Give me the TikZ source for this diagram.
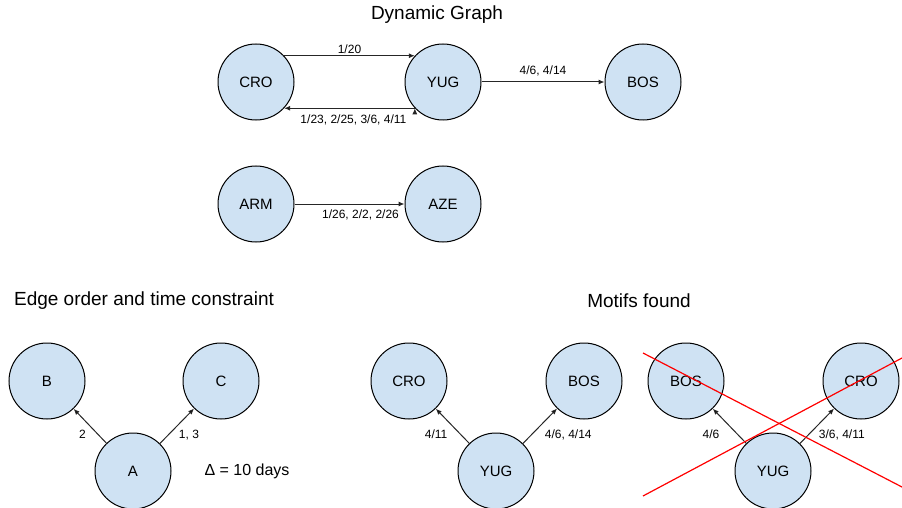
\documentclass[tikz,border=0pt]{standalone}
\usepackage{fontspec}
\setmainfont{Liberation Sans}
\usetikzlibrary{positioning,arrows.meta}
\definecolor{nodeblue}{HTML}{CFE2F3}
\tikzset{
country/.style={circle,draw=black,fill=nodeblue,line width=1pt,
  minimum size=76pt,inner sep=0pt,font=\fontsize{15}{18}\selectfont},
el/.style={font=\fontsize{12}{14}\selectfont,inner sep=2pt},
hd/.style={font=\fontsize{19}{23}\selectfont},
link/.style={-{Latex[length=6pt,width=5pt]},line width=1pt,draw=black!85},
cross/.style={red,line width=1.2pt},
}
\begin{document}
\begin{tikzpicture}[x=1pt,y=-1pt]
	\useasboundingbox (0,0) rectangle (902,508);

	% dynamic graph
	\node[hd] (title) at (437,15) {Dynamic Graph};
	\node[country] (cro) at (256,82) {CRO};
	\node[country,right=110pt of cro] (yug) {YUG};
	\node[country,right=123pt of yug] (bos) {BOS};
	\node[country,below=45pt of cro] (arm) {ARM};
	\node[country,right=110pt of arm] (aze) {AZE};

	\path[link]
	(cro.43) edge node[el,above] {1/20} (yug.137)
	(yug.-137) edge node[el,below=4pt,pos=0.47] {1/23, 2/25, 3/6, 4/11} (cro.-43)
	(yug) edge node[el,above=3pt] {4/6, 4/14} (bos)
	(arm) edge node[el,below=3pt,pos=0.6] {1/26, 2/2, 2/26} (aze)
	;

	% edge order and time constraint
	\node[hd] (order) at (144,301) {Edge order and time constraint};
	\node[country] (b) at (47,381) {B};
	\node[country,right=97pt of b] (c) {C};
	\node[country] (a) at (133,471) {A};
	\node[font=\fontsize{16}{19}\selectfont] (delta) at (247,471) {Δ = 10 days};

	\path[link]
	(a) edge node[el,left=10pt,pos=0.25] {2} (b)
	(a) edge node[el,right=8pt,pos=0.25] {1, 3} (c)
	;

	% motifs found
	\node[hd] (found) at (639,301) {Motifs found};
	\node[country] (cro2) at (409,381) {CRO};
	\node[country,right=98pt of cro2] (bos2) {BOS};
	\node[country] (yug2) at (496,471) {YUG};

	\path[link]
	(yug2) edge node[el,left=11pt,pos=0.25] {4/11} (cro2)
	(yug2) edge node[el,right=11pt,pos=0.25] {4/6, 4/14} (bos2)
	;

	\node[country] (bos3) at (686,381) {BOS};
	\node[country,right=98pt of bos3] (cro3) {CRO};
	\node[country] (yug3) at (773,471) {YUG};

	\path[link]
	(yug3) edge node[el,left=16pt,pos=0.25] {4/6} (bos3)
	(yug3) edge node[el,right=8pt,pos=0.25] {3/6, 4/11} (cro3)
	;

	% crossed out
	\coordinate (x1) at (643,353);
	\coordinate (x2) at (902,487);
	\coordinate (x3) at (643,496);
	\coordinate (x4) at (902,358);
	\draw[cross] (x1) -- (x2);
	\draw[cross] (x3) -- (x4);
\end{tikzpicture}
\end{document}
